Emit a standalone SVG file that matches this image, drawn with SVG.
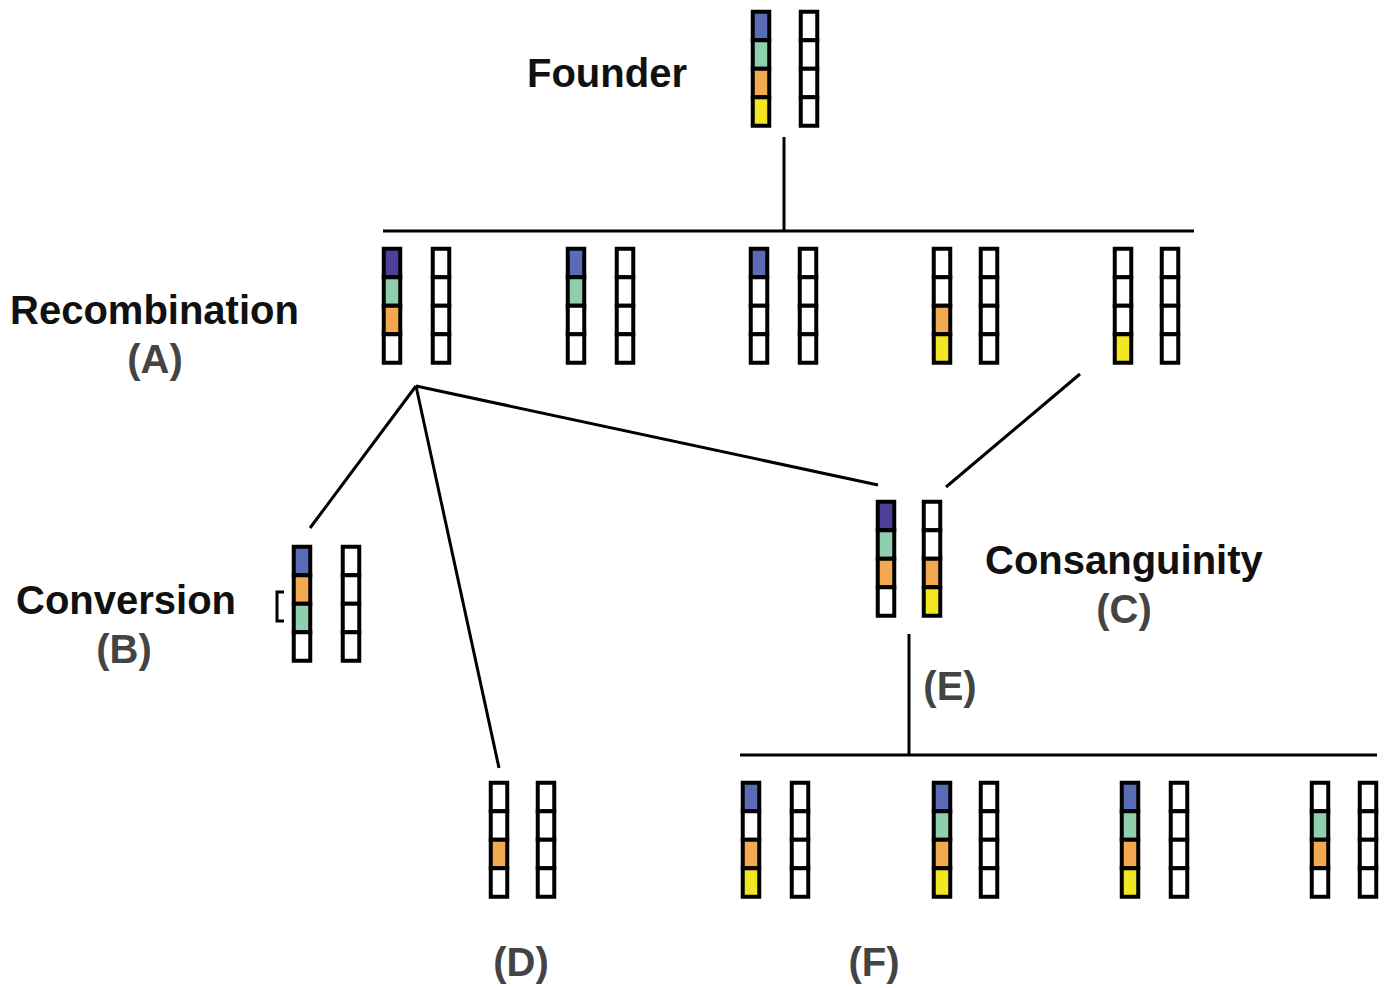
<svg xmlns="http://www.w3.org/2000/svg" width="1387" height="988" viewBox="0 0 1387 988">
<defs>
<style>
.c{stroke:#000;stroke-width:4;}
.w{fill:#fff}.p{fill:#4b3f98}.b{fill:#5b6cb6}.g{fill:#8fcfae}.o{fill:#f2a94f}.y{fill:#f2e522}
.ln{stroke:#000;stroke-width:3;fill:none}
.t{font-family:"Liberation Sans",Arial,sans-serif;font-weight:bold;font-size:40px;fill:#111}
.s{font-family:"Liberation Sans",Arial,sans-serif;font-weight:bold;font-size:40px;fill:#444}
</style>
<rect id="W" class="c w" width="16.5" height="28.5"/>
</defs>
<rect width="1387" height="988" fill="#fff"/>

<g id="connectors" class="ln">
<line x1="784" y1="137" x2="784" y2="231"/>
<line x1="383" y1="231" x2="1194" y2="231"/>
<line x1="416" y1="386" x2="310" y2="528"/>
<line x1="416" y1="386" x2="499" y2="768"/>
<line x1="416" y1="386" x2="878" y2="485"/>
<line x1="1080" y1="374" x2="946" y2="487"/>
<line x1="909" y1="634" x2="909" y2="755"/>
<line x1="740" y1="755" x2="1377" y2="755"/>
</g>

<g id="founder">
<text class="t" x="527" y="87">Founder</text>
<g transform="translate(752.75,11.75)">
<rect class="c b" y="0" width="16.5" height="28.5"/><rect class="c g" y="28.5" width="16.5" height="28.5"/><rect class="c o" y="57" width="16.5" height="28.5"/><rect class="c y" y="85.5" width="16.5" height="28.5"/>
</g>
<g transform="translate(800.75,11.75)">
<use href="#W" y="0"/><use href="#W" y="28.5"/><use href="#W" y="57"/><use href="#W" y="85.5"/>
</g>
</g>

<g id="recombination">
<text class="t" x="10" y="324">Recombination</text>
<text class="s" x="155" y="373" text-anchor="middle">(A)</text>
<g transform="translate(383.75,248.75)">
<rect class="c p" y="0" width="16.5" height="28.5"/><rect class="c g" y="28.5" width="16.5" height="28.5"/><rect class="c o" y="57" width="16.5" height="28.5"/><use href="#W" y="85.5"/>
</g>
<g transform="translate(432.75,248.75)">
<use href="#W" y="0"/><use href="#W" y="28.5"/><use href="#W" y="57"/><use href="#W" y="85.5"/>
</g>
<g transform="translate(567.75,248.75)">
<rect class="c b" y="0" width="16.5" height="28.5"/><rect class="c g" y="28.5" width="16.5" height="28.5"/><use href="#W" y="57"/><use href="#W" y="85.5"/>
</g>
<g transform="translate(616.75,248.75)">
<use href="#W" y="0"/><use href="#W" y="28.5"/><use href="#W" y="57"/><use href="#W" y="85.5"/>
</g>
<g transform="translate(750.75,248.75)">
<rect class="c b" y="0" width="16.5" height="28.5"/><use href="#W" y="28.5"/><use href="#W" y="57"/><use href="#W" y="85.5"/>
</g>
<g transform="translate(799.75,248.75)">
<use href="#W" y="0"/><use href="#W" y="28.5"/><use href="#W" y="57"/><use href="#W" y="85.5"/>
</g>
<g transform="translate(933.75,248.75)">
<use href="#W" y="0"/><use href="#W" y="28.5"/><rect class="c o" y="57" width="16.5" height="28.5"/><rect class="c y" y="85.5" width="16.5" height="28.5"/>
</g>
<g transform="translate(980.75,248.75)">
<use href="#W" y="0"/><use href="#W" y="28.5"/><use href="#W" y="57"/><use href="#W" y="85.5"/>
</g>
<g transform="translate(1114.75,248.75)">
<use href="#W" y="0"/><use href="#W" y="28.5"/><use href="#W" y="57"/><rect class="c y" y="85.5" width="16.5" height="28.5"/>
</g>
<g transform="translate(1161.75,248.75)">
<use href="#W" y="0"/><use href="#W" y="28.5"/><use href="#W" y="57"/><use href="#W" y="85.5"/>
</g>
</g>

<g id="conversion">
<text class="t" x="16" y="614">Conversion</text>
<text class="s" x="124" y="663" text-anchor="middle">(B)</text>
<path class="ln" d="M284,592 H277 V621 H284"/>
<g transform="translate(293.75,546.75)">
<rect class="c b" y="0" width="16.5" height="28.5"/><rect class="c o" y="28.5" width="16.5" height="28.5"/><rect class="c g" y="57" width="16.5" height="28.5"/><use href="#W" y="85.5"/>
</g>
<g transform="translate(342.75,546.75)">
<use href="#W" y="0"/><use href="#W" y="28.5"/><use href="#W" y="57"/><use href="#W" y="85.5"/>
</g>
</g>

<g id="consanguinity">
<text class="t" x="985" y="574">Consanguinity</text>
<text class="s" x="1124" y="623" text-anchor="middle">(C)</text>
<g transform="translate(877.75,501.75)">
<rect class="c p" y="0" width="16.5" height="28.5"/><rect class="c g" y="28.5" width="16.5" height="28.5"/><rect class="c o" y="57" width="16.5" height="28.5"/><use href="#W" y="85.5"/>
</g>
<g transform="translate(923.75,501.75)">
<use href="#W" y="0"/><use href="#W" y="28.5"/><rect class="c o" y="57" width="16.5" height="28.5"/><rect class="c y" y="85.5" width="16.5" height="28.5"/>
</g>
</g>

<g id="label-E">
<text class="s" x="950" y="700" text-anchor="middle">(E)</text>
</g>

<g id="node-D">
<text class="s" x="521" y="976" text-anchor="middle">(D)</text>
<g transform="translate(490.75,782.75)">
<use href="#W" y="0"/><use href="#W" y="28.5"/><rect class="c o" y="57" width="16.5" height="28.5"/><use href="#W" y="85.5"/>
</g>
<g transform="translate(537.75,782.75)">
<use href="#W" y="0"/><use href="#W" y="28.5"/><use href="#W" y="57"/><use href="#W" y="85.5"/>
</g>
</g>

<g id="node-F">
<text class="s" x="874" y="976" text-anchor="middle">(F)</text>
<g transform="translate(742.75,782.75)">
<rect class="c b" y="0" width="16.5" height="28.5"/><use href="#W" y="28.5"/><rect class="c o" y="57" width="16.5" height="28.5"/><rect class="c y" y="85.5" width="16.5" height="28.5"/>
</g>
<g transform="translate(791.75,782.75)">
<use href="#W" y="0"/><use href="#W" y="28.5"/><use href="#W" y="57"/><use href="#W" y="85.5"/>
</g>
<g transform="translate(933.75,782.75)">
<rect class="c b" y="0" width="16.5" height="28.5"/><rect class="c g" y="28.5" width="16.5" height="28.5"/><rect class="c o" y="57" width="16.5" height="28.5"/><rect class="c y" y="85.5" width="16.5" height="28.5"/>
</g>
<g transform="translate(980.75,782.75)">
<use href="#W" y="0"/><use href="#W" y="28.5"/><use href="#W" y="57"/><use href="#W" y="85.5"/>
</g>
<g transform="translate(1121.75,782.75)">
<rect class="c b" y="0" width="16.5" height="28.5"/><rect class="c g" y="28.5" width="16.5" height="28.5"/><rect class="c o" y="57" width="16.5" height="28.5"/><rect class="c y" y="85.5" width="16.5" height="28.5"/>
</g>
<g transform="translate(1170.75,782.75)">
<use href="#W" y="0"/><use href="#W" y="28.5"/><use href="#W" y="57"/><use href="#W" y="85.5"/>
</g>
<g transform="translate(1311.75,782.75)">
<use href="#W" y="0"/><rect class="c g" y="28.5" width="16.5" height="28.5"/><rect class="c o" y="57" width="16.5" height="28.5"/><use href="#W" y="85.5"/>
</g>
<g transform="translate(1359.75,782.75)">
<use href="#W" y="0"/><use href="#W" y="28.5"/><use href="#W" y="57"/><use href="#W" y="85.5"/>
</g>
</g>
</svg>
